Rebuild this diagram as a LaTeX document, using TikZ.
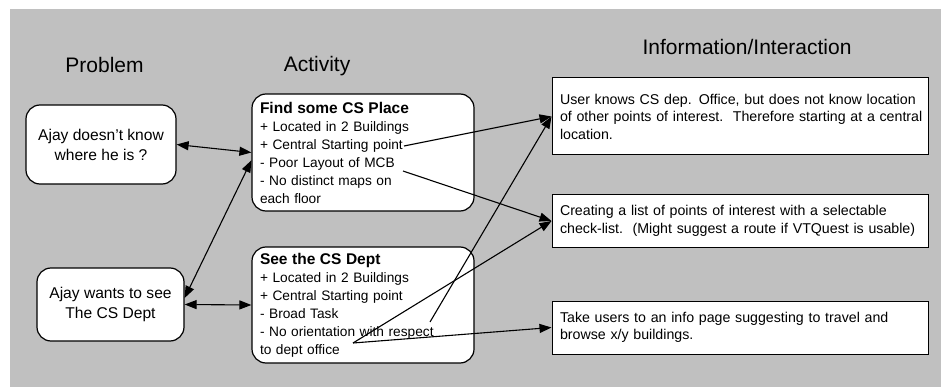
\documentclass[tikz,border=0pt]{standalone}
\usepackage{fontspec}
\setmainfont{Liberation Sans}
\usetikzlibrary{arrows.meta,calc}
\begin{document}
\begin{tikzpicture}[x=1pt,y=-1pt,
  prob/.style={draw,line width=1.2pt,rounded corners=14pt,fill=white,align=center,font=\fontsize{15.6}{20}\selectfont,inner sep=0pt},
  act/.style={draw,line width=1.2pt,rounded corners=14pt,fill=white,align=left,font=\fontsize{13.7}{18}\selectfont,inner sep=0pt,text width=206pt,minimum width=222pt},
  info/.style={draw,line width=1pt,fill=white,align=left,font=\fontsize{14.2}{17.5}\selectfont,inner sep=0pt,text width=360pt,minimum width=376pt},
  hdr/.style={font=\fontsize{21}{25}\selectfont},
  conn/.style={line width=1.1pt},
  tip/.style={conn,-{Triangle[length=12pt,width=9pt]}},
  dtip/.style={conn,{Triangle[length=12pt,width=9pt]}-{Triangle[length=12pt,width=9pt]}},
]
\useasboundingbox (0,0) rectangle (941,387);
\fill[fill={rgb,255:red,192;green,192;blue,192}] (10,9) rectangle (941,387);

\node[hdr] (h1) at (104.5,65) {Problem};
\node[hdr] (h2) at (317,66) {Activity};
\node[hdr] (h3) at (747,47) {Information/Interaction};

\node[prob,minimum width=150pt,minimum height=79pt] (p1) at (101,144.5) {Ajay doesn’t know\\where he is ?};
\node[prob,minimum width=147pt,minimum height=73pt] (p2) at (110.5,304.5) {Ajay wants to see\\The CS Dept};

\node[act,minimum height=117pt] (a1) at (363,152.5) {{\fontsize{15.5}{18}\selectfont\bfseries Find some CS Place}\\+ Located in 2 Buildings\\+ Central Starting point\\- Poor Layout of MCB\\- No distinct maps on\\each floor};
\node[act,minimum height=116pt] (a2) at (363,305) {{\fontsize{15.5}{18}\selectfont\bfseries See the CS Dept}\\+ Located in 2 Buildings\\+ Central Starting point\\- Broad Task\\- No orientation with respect\\to dept office};

\node[info,minimum height=77pt] (i1) at (740,116.5) {\mbox{User knows CS dep. Office, but does not know location}\\\mbox{of other points of interest.\ \ Therefore starting at a central}\\location.};
\node[info,minimum height=52pt] (i2) at (740,221) {\mbox{Creating a list of points of interest with a selectable}\\\mbox{check-list.\ \ (Might suggest a route if VTQuest is usable)}};
\node[info,minimum height=53pt] (i3) at (740,327.5) {\mbox{Take users to an info page suggesting to travel and}\\browse x/y buildings.};

\coordinate (c1) at (404,146);
\coordinate (c2) at (403,171);
\coordinate (c3) at (430,322);
\coordinate (c4) at (353,343);

\draw[dtip] (p1.east) -- (a1.west);
\draw[dtip] (p2.east) -- (a2.west);
\draw[dtip] (a1.184) -- (p2.5);
\draw[tip] (c1) -- (i1.west);
\draw[tip] (c2) -- (i2.west);
\draw[tip] (c3) -- (i1.west);
\draw[tip] (c4) -- (i2.west);
\draw[tip] (c4) -- (i3.west);
\end{tikzpicture}
\end{document}
